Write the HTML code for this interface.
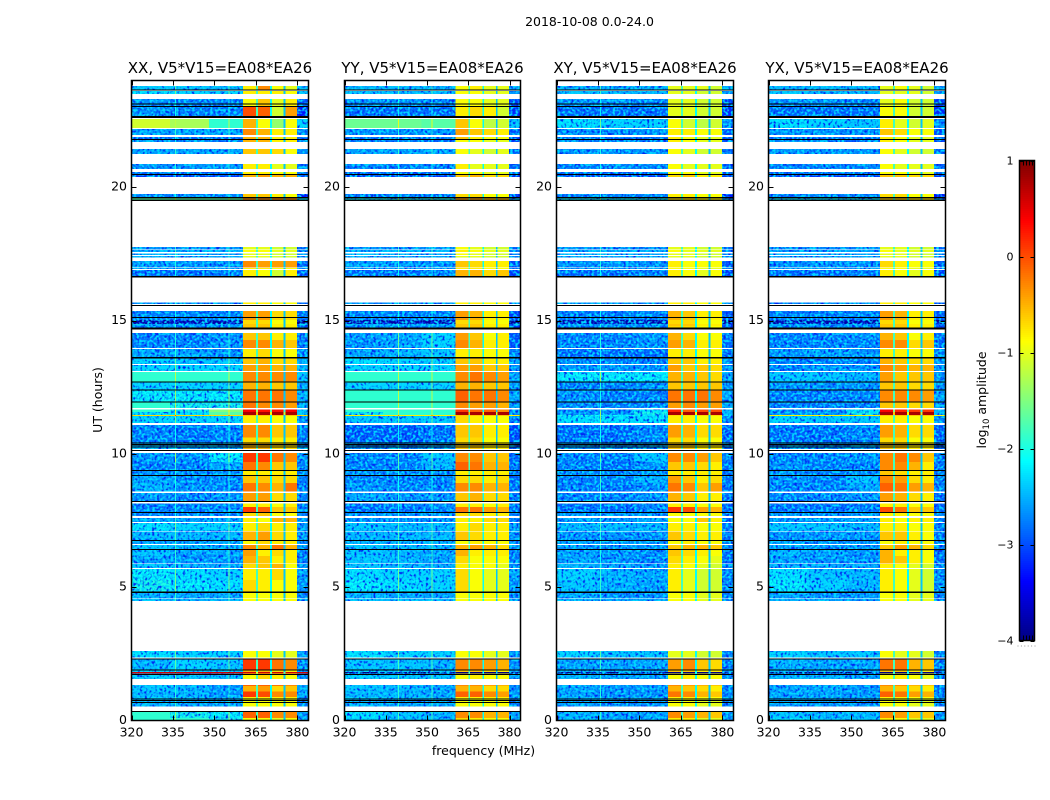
<!DOCTYPE html>
<html lang="en">
<head>
<meta charset="utf-8">
<title>2018-10-08 0.0-24.0</title>
<style>
html,body{margin:0;padding:0;background:#fff}
svg{display:block}
text{font-family:"DejaVu Sans","Liberation Sans",sans-serif;fill:#000}
</style>
</head>
<body>
<svg id="fig" xmlns="http://www.w3.org/2000/svg" width="1050" height="800" viewBox="0 0 1050 800">
<defs>
<filter id="speckle" x="0" y="0" width="100%" height="100%" color-interpolation-filters="sRGB">
<feTurbulence type="fractalNoise" baseFrequency="0.42 0.36" numOctaves="1" seed="4" result="a"/>
<feColorMatrix in="a" type="matrix" values="0 0 0 0 0  0 0 0 0 0.15  0 0 0 0 0.95  0 0 0 4.5 -2.15" result="dark"/>
<feTurbulence type="fractalNoise" baseFrequency="0.38 0.42" numOctaves="1" seed="11" result="b"/>
<feColorMatrix in="b" type="matrix" values="0 0 0 0 0  0 0 0 0 0.85  0 0 0 0 1  0 0 0 4.5 -2.0" result="light"/>
<feMerge result="m"><feMergeNode in="SourceGraphic"/><feMergeNode in="dark"/><feMergeNode in="light"/></feMerge>
<feComposite in="m" in2="SourceAlpha" operator="in"/>
</filter>
</defs>
<text x="589.5" y="26" font-size="12.5" text-anchor="middle">2018-10-08 0.0-24.0</text>
<text x="483.5" y="755" font-size="12.5" text-anchor="middle">frequency (MHz)</text>
<text transform="translate(102,400) rotate(-90)" font-size="12.5" text-anchor="middle">UT (hours)</text>
<text transform="translate(986,400) rotate(-90)" font-size="12.5" text-anchor="middle">log<tspan font-size="8.5" dy="3">10</tspan><tspan dy="-3"> amplitude</tspan></text>
<g id="panels"></g>
<g id="cbar"></g>
</svg>
<script>
// Axis tick values
const xTicks = [320, 335, 350, 365, 380];
const yTicks = [0, 5, 10, 15, 20];
const cbTicks = [-4, -3, -2, -1, 0, 1];
const panelTitles = ['XX, V5*V15=EA08*EA26', 'YY, V5*V15=EA08*EA26', 'XY, V5*V15=EA08*EA26', 'YX, V5*V15=EA08*EA26'];

// Frequency bin edges (MHz): three low-band blocks, four sub-bands separated by gaps, and the top block
const freqEdges = [320, 334, 348, 360.3, 365, 365.7, 370.1, 370.8, 375, 375.7, 379.8, 384];
// Levels in the three gaps between sub-bands (log10 amplitude x 10)
const gapLevels = [-18, -21, -24];

// Time rows in UT hours; gaps between rows are flagged (white) data
const rowStart = [0,.09,.52,.83,.88,1.09,1.29,1.55,1.71,1.76,1.81,1.89,2.36,4.48,4.59,4.79,5.27,5.72,5.88,6.17,6.43,6.62,6.77,7.11,7.45,7.66,7.78,8.01,8.23,8.58,8.91,9.18,9.39,9.69,10.18,10.42,10.62,11.15,11.42,11.46,11.56,11.71,11.94,12.39,12.67,13.11,13.37,13.58,13.96,14.27,14.67,14.79,14.87,15.02,15.61,16.67,16.93,16.99,17.37,17.45,17.56,17.67,19.48,19.64,20.38,20.49,20.68,21.25,21.69,21.81,21.96,22.22,22.67,23.01,23.49,23.66];
const rowEnd = [.09,.31,.83,.88,1.09,1.29,1.33,1.71,1.76,1.81,1.89,2.30,2.61,4.57,4.79,5.27,5.68,5.86,6.17,6.43,6.58,6.77,7.08,7.41,7.59,7.78,8.01,8.13,8.54,8.91,9.18,9.39,9.69,10.04,10.42,10.62,11.09,11.42,11.46,11.56,11.67,11.94,12.39,12.67,13.07,13.33,13.58,13.93,14.27,14.54,14.79,14.87,15.02,15.36,15.67,16.90,16.97,17.23,17.41,17.52,17.64,17.76,19.62,19.74,20.49,20.57,20.87,21.43,21.81,21.88,22.18,22.56,23.01,23.31,23.61,23.79];

// Blank integrations drawn black across each panel [start hour, end hour]
const blankStart = [.31,.67,.73,.81,1.71,1.89,2.30,4.79,6.41,6.73,7.78,8.22,9.18,9.36,10.11,10.23,10.31,10.40,11.94,12.39,12.67,13.58,14.67,15.12,15.56,16.61,19.48,19.56,19.62,20.46,21.77,22.59,23.01,23.10,23.63];
const blankEnd = [.35,.69,.76,.83,1.74,1.92,2.32,4.83,6.43,6.77,7.82,8.24,9.21,9.39,10.15,10.27,10.36,10.43,11.97,12.42,12.71,13.64,14.74,15.14,15.59,16.67,19.52,19.58,19.64,20.49,21.81,22.67,23.05,23.14,23.66];

// Narrow interference channels (MHz)
const rfiXX = [335.8, 355];
const rfiYY = [339.5, 351.6];
const rfiXY = [335.8];
const rfiYX = [];

// log10 amplitude x 10 per row: low1, low2, low3, sub1, sub2, sub3, sub4, top
const levelsXX = [
[-19,-19,-20,-9,-9,-10,-9,-27],[-19,-20,-21,-1,-1,-3,-3,-26],[-25,-26,-26,-9,-9,-9,-9,-28],[-23,-24,-25,-8,-8,-8,-8,-27],[-25,-25,-27,1,0,-3,-3,-26],[-24,-25,-27,-5,-4,-7,-6,-26],[-24,-25,-26,-1,-1,-2,-3,-26],[-23,-24,-24,-9,-7,-8,-9,-26],[-26,-27,-27,-7,-7,-8,-9,-27],[6,6,6,6,6,6,6,6],[-23,-24,-24,-5,-5,-7,-8,-27],[-25,-23,-24,1,1,-2,-3,-26],[-22,-23,-23,-9,-9,-10,-10,-27],
[-24,-25,-25,-9,-9,-9,-9,-27],[-25,-26,-26,-9,-9,-9,-9,-28],[-20,-21,-22,-7,-8,-9,-9,-27],[-21,-22,-23,-8,-8,-7,-9,-26],[-24,-25,-26,-7,-6,-5,-9,-27],[-26,-27,-27,-5,-6,-8,-8,-28],[-24,-26,-26,-4,-8,-7,-8,-28],[-24,-25,-26,-3,-5,-2,-5,-27],[-26,-26,-26,-9,-7,-8,-8,-27],[-25,-25,-25,-5,-4,-7,-8,-27],[-22,-23,-23,-8,-7,-8,-8,-26],[-26,-26,-26,-8,-9,-5,-5,-27],[-28,-28,-28,-7,-6,-9,-9,-28],[-28,-28,-27,1,-1,-6,-6,-28],[-29,-28,-28,-8,-8,-9,-8,-28],[-27,-28,-27,-4,-4,-7,-7,-28],[-25,-27,-28,-2,-3,-5,-2,-28],[-26,-27,-27,-6,-6,-7,-7,-28],[-27,-27,-27,-8,-8,-8,-8,-28],[-28,-28,-26,-2,-3,-6,-6,-28],[-27,-27,-21,1,1,-2,-3,-27],
[-25,-26,-26,-5,-5,-7,-7,-27],[-28,-29,-28,-7,-7,-8,-8,-28],[-28,-29,-28,-3,-3,-6,-6,-28],[-23,-23,-23,-8,-8,-9,-9,-27],[-7,-7,-7,-6,-6,-6,-6,-7],[-22,-22,-17,8,8,8,8,-24],[-19,-20,-15,4,3,3,4,-24],[-19,-20,-20,-2,-3,-3,-4,-25],[-21,-21,-21,-2,-2,-2,-3,-25],[-23,-23,-23,-5,-5,-6,-6,-26],[-19,-19,-19,-3,-3,-3,-3,-24],[-23,-23,-23,-4,-4,-5,-5,-25],[-23,-24,-24,-6,-5,-7,-7,-26],[-26,-26,-27,-8,-7,-9,-9,-28],[-28,-28,-27,-3,-3,-5,-6,-28],[-28,-28,-27,-6,-6,-8,-8,-28],[-28,-28,-28,-6,-6,-8,-8,-29],[-25,-26,-26,-6,-6,-8,-8,-28],[-38,-38,-38,-7,-7,-9,-9,-39],[-28,-28,-28,-4,-4,-7,-7,-29],[-27,-27,-27,-8,-8,-9,-9,-28],
[-29,-29,-28,-8,-9,-11,-8,-30],[-26,-26,-26,-8,-8,-9,-9,-27],[-26,-27,-27,-3,-4,-4,-4,-29],[-25,-26,-26,-10,-10,-11,-11,-27],[-25,-25,-26,-10,-10,-11,-11,-27],[-25,-25,-25,-9,-9,-10,-10,-27],[-27,-27,-27,-10,-10,-11,-11,-28],[-17,-17,-17,-3,-3,-3,-3,-22],[-28,-28,-28,-6,-6,-8,-9,-33],[-31,-31,-31,-5,-4,-5,-5,-30],[-29,-29,-29,-8,-8,-9,-9,-28],[-27,-27,-27,-8,-8,-10,-10,-28],[-26,-26,-26,-6,-6,-7,-9,-27],[-27,-27,-28,-5,-5,-8,-8,-29],[-29,-29,-29,-5,-5,-8,-8,-29],[-26,-26,-26,-3,-5,-8,-8,-28],[-11,-13,-19,-5,-9,-14,-9,-23],[-27,-28,-28,0,-1,-11,-4,-33],[-27,-28,-28,-9,-6,-10,-8,-30],[-22,-23,-23,-8,-8,-8,-9,-24],[-24,-24,-25,-8,-3,-9,-10,-24]
];
const levelsYY = [
[-23,-24,-25,-7,-8,-9,-9,-27],[-22,-24,-25,-3,-3,-5,-5,-26],[-25,-26,-26,-9,-9,-9,-9,-28],[-23,-24,-25,-8,-8,-8,-8,-27],[-25,-25,-26,-1,-1,-3,-4,-27],[-24,-25,-26,-5,-5,-7,-7,-27],[-24,-25,-26,-3,-3,-4,-5,-27],[-23,-24,-24,-9,-8,-9,-9,-26],[-26,-27,-27,-7,-7,-8,-9,-27],[-40,-40,-40,-40,-40,-40,-40,-40],[-23,-24,-24,-6,-6,-7,-8,-27],[-24,-24,-25,-3,-3,-4,-5,-27],[-22,-23,-23,-9,-9,-10,-10,-27],
[-24,-25,-25,-9,-9,-9,-9,-27],[-25,-26,-26,-9,-9,-9,-9,-28],[-21,-22,-23,-7,-9,-10,-10,-27],[-22,-23,-23,-7,-9,-10,-10,-26],[-24,-25,-26,-8,-9,-9,-10,-27],[-24,-25,-26,-7,-9,-9,-9,-28],[-24,-25,-26,-5,-8,-8,-8,-28],[-24,-25,-25,-5,-4,-5,-7,-27],[-25,-25,-25,-9,-8,-9,-9,-27],[-25,-25,-25,-6,-7,-8,-8,-27],[-24,-25,-25,-8,-7,-8,-8,-26],[-27,-27,-27,-8,-8,-7,-7,-28],[-27,-27,-27,-7,-7,-8,-8,-28],[-29,-29,-28,-2,-2,-4,-5,-29],[-29,-28,-28,-8,-8,-9,-8,-29],[-26,-27,-27,-6,-5,-7,-7,-28],[-27,-28,-28,-3,-3,-5,-5,-29],[-28,-28,-28,-7,-7,-8,-7,-29],[-27,-27,-27,-8,-8,-8,-8,-28],[-28,-28,-25,-1,-2,-5,-5,-29],[-28,-28,-24,-3,-3,-6,-6,-29],
[-28,-28,-27,-6,-6,-8,-8,-30],[-29,-30,-29,-7,-7,-9,-9,-30],[-30,-30,-29,-6,-6,-8,-8,-31],[-24,-24,-24,-7,-8,-9,-9,-28],[-8,-8,-8,-6,-6,-6,-6,-8],[-20,-19,-19,8,8,8,8,-27],[-19,-19,-19,1,-1,-1,-3,-27],[-19,-19,-19,-3,-4,-4,-5,-26],[-19,-19,-19,-1,-2,-2,-3,-26],[-23,-23,-23,-5,-5,-6,-6,-27],[-19,-19,-19,-3,-2,-3,-4,-26],[-23,-23,-23,-4,-4,-6,-6,-27],[-22,-23,-23,-6,-6,-8,-8,-26],[-26,-25,-24,-8,-8,-9,-9,-28],[-27,-26,-23,-3,-5,-8,-8,-30],[-27,-26,-23,-4,-6,-9,-8,-30],[-28,-28,-28,-6,-6,-8,-8,-31],[-25,-26,-26,-6,-6,-8,-8,-30],[-38,-38,-38,-7,-7,-9,-9,-39],[-28,-28,-28,-4,-5,-8,-8,-31],[-27,-27,-27,-8,-8,-9,-9,-28],
[-29,-29,-28,-5,-5,-7,-6,-31],[-26,-26,-26,-8,-8,-9,-9,-28],[-26,-27,-27,-6,-7,-8,-8,-30],[-25,-26,-26,-10,-10,-11,-11,-28],[-24,-25,-26,-9,-10,-11,-11,-28],[-25,-25,-25,-8,-9,-10,-10,-28],[-27,-27,-27,-9,-10,-11,-11,-29],[-20,-20,-20,-4,-4,-5,-5,-24],[-28,-28,-28,-7,-7,-9,-9,-32],[-31,-31,-31,-6,-5,-7,-7,-31],[-29,-29,-29,-9,-9,-10,-10,-28],[-28,-28,-28,-8,-10,-10,-10,-29],[-26,-26,-26,-9,-10,-11,-10,-29],[-28,-28,-29,-9,-9,-10,-10,-31],[-29,-29,-29,-6,-8,-9,-9,-31],[-27,-27,-27,-4,-6,-7,-8,-30],[-16,-16,-17,-6,-9,-12,-11,-24],[-29,-29,-29,-8,-7,-8,-11,-32],[-27,-27,-28,-9,-9,-10,-10,-31],[-24,-25,-25,-9,-9,-10,-10,-27],[-25,-25,-25,-9,-8,-10,-10,-26]
];
const levelsXY = [
[-24,-26,-26,-8,-8,-10,-10,-27],[-25,-26,-26,-3,-4,-5,-6,-27],[-26,-27,-27,-9,-9,-10,-10,-28],[-25,-26,-26,-8,-8,-9,-9,-28],[-26,-27,-27,-2,-3,-5,-6,-27],[-26,-27,-27,-5,-6,-7,-8,-28],[-26,-26,-27,-3,-4,-5,-6,-28],[-25,-26,-26,-9,-8,-9,-9,-27],[-27,-27,-27,-8,-8,-9,-9,-28],[-40,-40,-40,-40,-40,-40,-40,-40],[-25,-25,-26,-6,-6,-8,-8,-28],[-26,-26,-26,-4,-3,-6,-7,-28],[-23,-24,-24,-10,-10,-11,-11,-28],
[-25,-26,-26,-9,-9,-10,-10,-28],[-26,-27,-27,-9,-9,-10,-10,-28],[-24,-25,-26,-8,-10,-11,-11,-28],[-23,-25,-26,-8,-10,-11,-11,-28],[-25,-26,-27,-8,-9,-10,-11,-28],[-26,-27,-28,-7,-8,-9,-10,-29],[-26,-27,-27,-6,-7,-8,-9,-29],[-27,-27,-27,-6,-5,-5,-6,-28],[-26,-27,-27,-9,-8,-9,-9,-28],[-27,-27,-27,-6,-7,-8,-8,-28],[-25,-25,-25,-8,-8,-9,-9,-28],[-26,-27,-26,-9,-9,-6,-8,-29],[-27,-27,-27,-9,-9,-9,-9,-29],[-29,-29,-28,1,0,-4,-5,-29],[-29,-29,-28,-8,-8,-9,-9,-29],[-28,-28,-27,-5,-6,-8,-8,-29],[-28,-29,-27,-2,-3,-6,-4,-29],[-28,-28,-25,-4,-6,-8,-7,-29],[-27,-28,-27,-8,-8,-8,-8,-29],[-28,-29,-27,-6,-6,-7,-8,-29],[-28,-28,-24,-3,-3,-4,-6,-28],
[-27,-28,-27,-6,-6,-8,-8,-29],[-28,-29,-28,-7,-7,-9,-9,-29],[-29,-29,-28,-4,-5,-7,-7,-30],[-22,-22,-22,-8,-8,-9,-9,-27],[-20,-21,-21,-7,-7,-7,-7,-22],[-27,-27,-20,8,8,8,8,-25],[-28,-28,-22,2,-1,0,0,-25],[-27,-28,-28,-4,-3,-4,-4,-26],[-27,-28,-28,-2,-2,-2,-3,-26],[-28,-28,-27,-6,-6,-6,-6,-27],[-21,-21,-21,-5,-5,-6,-7,-26],[-27,-27,-27,-4,-6,-6,-7,-27],[-27,-28,-28,-6,-6,-8,-8,-27],[-29,-29,-29,-8,-8,-9,-9,-29],[-28,-28,-27,-4,-5,-8,-8,-29],[-28,-28,-27,-5,-7,-9,-9,-29],[-28,-28,-28,-7,-7,-9,-9,-30],[-26,-27,-27,-6,-6,-8,-8,-29],[-38,-38,-38,-7,-7,-9,-9,-39],[-28,-28,-28,-5,-6,-8,-8,-30],[-27,-27,-27,-8,-8,-9,-9,-28],
[-29,-29,-28,-8,-9,-10,-9,-31],[-26,-26,-26,-9,-9,-10,-10,-28],[-27,-27,-27,-8,-9,-9,-9,-30],[-26,-26,-26,-10,-10,-11,-11,-28],[-25,-25,-26,-10,-10,-11,-11,-28],[-26,-26,-26,-9,-10,-10,-10,-28],[-27,-27,-27,-10,-10,-11,-11,-29],[-21,-21,-21,-7,-7,-8,-8,-26],[-28,-28,-28,-8,-8,-9,-9,-33],[-31,-31,-31,-7,-6,-8,-8,-31],[-29,-29,-29,-9,-9,-10,-10,-29],[-28,-28,-28,-9,-10,-10,-10,-29],[-27,-27,-27,-9,-10,-11,-11,-29],[-28,-28,-29,-8,-9,-10,-10,-30],[-29,-29,-29,-8,-9,-10,-10,-30],[-27,-27,-27,-8,-8,-9,-9,-30],[-22,-23,-23,-9,-11,-12,-11,-27],[-29,-29,-29,-10,-10,-11,-11,-32],[-27,-27,-28,-10,-10,-11,-11,-31],[-24,-25,-25,-10,-10,-11,-11,-27],[-25,-25,-25,-10,-10,-10,-11,-26]
];
const levelsYX = [
[-22,-24,-24,-8,-9,-10,-10,-27],[-24,-25,-25,-3,-4,-6,-6,-27],[-26,-27,-27,-9,-9,-10,-10,-28],[-25,-26,-26,-8,-8,-9,-9,-28],[-26,-26,-27,-1,-2,-4,-5,-27],[-26,-26,-27,-5,-6,-7,-8,-28],[-26,-26,-27,-3,-3,-5,-6,-28],[-25,-25,-26,-9,-8,-9,-10,-27],[-27,-27,-27,-8,-8,-9,-9,-28],[-40,-40,-40,-40,-40,-40,-40,-40],[-25,-25,-26,-6,-6,-8,-8,-28],[-25,-26,-26,-2,-2,-5,-6,-28],[-23,-24,-24,-9,-10,-10,-11,-28],
[-25,-26,-26,-9,-9,-10,-10,-28],[-26,-27,-27,-9,-9,-10,-10,-28],[-21,-23,-25,-8,-9,-10,-11,-27],[-22,-24,-25,-8,-9,-10,-11,-27],[-25,-26,-26,-8,-9,-10,-11,-28],[-26,-27,-27,-5,-6,-8,-9,-29],[-25,-26,-27,-5,-8,-8,-9,-28],[-26,-27,-27,-6,-4,-5,-7,-28],[-26,-27,-27,-9,-8,-9,-9,-28],[-27,-27,-27,-6,-6,-8,-9,-28],[-24,-24,-25,-8,-8,-9,-9,-28],[-27,-27,-26,-8,-9,-8,-8,-28],[-27,-27,-27,-8,-8,-9,-9,-28],[-29,-29,-28,0,-2,-6,-6,-29],[-29,-29,-28,-8,-8,-9,-9,-29],[-28,-28,-27,-4,-5,-7,-8,-29],[-28,-28,-26,-1,-2,-4,-5,-28],[-27,-28,-24,-3,-4,-7,-8,-28],[-27,-28,-27,-6,-7,-8,-8,-28],[-27,-28,-28,-3,-3,-5,-8,-28],[-28,-28,-27,-3,-2,-3,-6,-28],
[-27,-28,-27,-6,-6,-8,-8,-29],[-29,-29,-28,-7,-7,-9,-9,-29],[-29,-29,-28,-4,-5,-7,-7,-30],[-23,-24,-24,-8,-8,-9,-9,-27],[-8,-8,-8,-6,-6,-6,-6,-9],[-27,-26,-20,8,8,8,8,-25],[-28,-28,-22,4,2,1,1,-25],[-28,-28,-28,-6,-6,-7,-7,-26],[-28,-28,-28,-3,-3,-3,-4,-26],[-27,-27,-27,-6,-6,-7,-7,-27],[-24,-24,-25,-4,-6,-6,-6,-27],[-28,-27,-27,-3,-4,-5,-5,-27],[-28,-28,-28,-5,-6,-7,-7,-27],[-27,-26,-27,-8,-8,-9,-9,-28],[-28,-28,-28,-3,-3,-7,-6,-29],[-28,-28,-27,-5,-6,-9,-8,-29],[-28,-28,-28,-6,-6,-8,-8,-30],[-26,-27,-27,-6,-6,-8,-8,-29],[-38,-38,-38,-7,-7,-9,-9,-39],[-28,-28,-28,-4,-5,-8,-8,-30],[-27,-27,-27,-8,-8,-9,-9,-28],
[-29,-29,-28,-8,-9,-10,-9,-31],[-26,-26,-26,-9,-9,-10,-10,-28],[-27,-27,-27,-7,-8,-9,-9,-30],[-26,-26,-26,-10,-10,-11,-11,-28],[-25,-25,-26,-10,-10,-11,-11,-28],[-26,-26,-26,-9,-10,-10,-10,-28],[-27,-27,-27,-10,-10,-11,-11,-29],[-21,-21,-21,-6,-6,-7,-7,-26],[-28,-28,-28,-7,-7,-9,-9,-33],[-31,-31,-31,-6,-6,-7,-7,-31],[-29,-29,-29,-9,-9,-10,-10,-29],[-28,-28,-28,-9,-10,-10,-10,-29],[-27,-27,-27,-9,-10,-11,-11,-29],[-28,-28,-29,-8,-9,-10,-10,-30],[-29,-29,-29,-8,-9,-10,-10,-30],[-27,-27,-27,-6,-7,-9,-9,-30],[-22,-23,-24,-8,-10,-11,-10,-27],[-29,-29,-29,-9,-9,-11,-11,-32],[-27,-27,-28,-10,-9,-11,-11,-31],[-24,-25,-25,-10,-10,-10,-11,-27],[-25,-25,-25,-10,-9,-10,-11,-26]
];

const allLevels = [levelsXX, levelsYY, levelsXY, levelsYX];
const allRfi = [rfiXX, rfiYY, rfiXY, rfiYX];
const panelLeft = [131.5, 344.5, 556.5, 768.5];
const panelWidth = [177, 176, 177, 177];
const panelKeys = ['xx', 'yy', 'xy', 'yx'];

const NS = 'http://www.w3.org/2000/svg';
const TOP = 80.5, BOTTOM = 720.5;
const F0 = 320, F1 = 384, H1 = 24;
const SMOOTH_ABOVE = -1.95;
const yOf = h => BOTTOM - (h / H1) * (BOTTOM - TOP);

function jet(norm) {
  const t = Math.max(0, Math.min(1, norm));
  const c = v => Math.round(255 * Math.max(0, Math.min(1, v)));
  const r = Math.min(4 * t - 1.5, -4 * t + 4.5);
  const g = Math.min(4 * t - 0.5, -4 * t + 3.5);
  const b = Math.min(4 * t + 0.5, -4 * t + 2.5);
  return 'rgb(' + c(r) + ',' + c(g) + ',' + c(b) + ')';
}
const colorOf = v => jet((v + 4) / 5);

function make(parent, tag, attrs, txt) {
  const n = document.createElementNS(NS, tag);
  for (const k in attrs) n.setAttribute(k, attrs[k]);
  if (txt !== undefined) n.textContent = txt;
  parent.appendChild(n);
  return n;
}

const root = document.getElementById('panels');

panelTitles.forEach((title, p) => {
  const left = panelLeft[p], w = panelWidth[p];
  const xOf = f => left + ((f - F0) / (F1 - F0)) * w;
  const key = panelKeys[p];
  const levels = allLevels[p];

  const g = make(root, 'g', {});
  
  

  const low = make(g, 'g', { filter: 'url(#speckle)', 'shape-rendering': 'crispEdges' });
  
  
  const high = make(g, 'g', { 'shape-rendering': 'crispEdges' });
  
  

  rowStart.forEach((start, r) => {
    const y = yOf(rowEnd[r]);
    const h = yOf(start) - y;
    const v = levels[r].map(n => n / 10);
    const sMean = (v[3] + v[4] + v[5] + v[6]) / 4;
    const gapBoost = sMean > 0 ? sMean * 1.5 : 0;
    const vals = [v[0], v[1], v[2], v[3], gapLevels[0] / 10 + gapBoost, v[4], gapLevels[1] / 10 + gapBoost, v[5], gapLevels[2] / 10 + gapBoost, v[6], v[7]];
    vals.forEach((val, c) => {
      const x0 = xOf(freqEdges[c]);
      const x1 = xOf(freqEdges[c + 1]);
      const noisy = (c < 3 || c === 10) && val < SMOOTH_ABOVE;
      const cell = make(noisy ? low : high, 'rect', { x: x0, y: y, width: x1 - x0, height: h, fill: colorOf(val) });
      
      
    });
  });

  const rfiG = make(g, 'g', { 'shape-rendering': 'crispEdges' });
  
  
  allRfi[p].forEach(f => {
    rowStart.forEach((start, r) => {
      const y = yOf(rowEnd[r]);
      const line = make(rfiG, 'rect', { x: xOf(f), y: y, width: 1, height: yOf(start) - y, fill: colorOf(levels[r][2] / 10 + 0.7) });
      
      
    });
  });

  const blanks = make(g, 'g', { 'shape-rendering': 'crispEdges' });
  
  
  blankStart.forEach((start, b) => {
    const y = yOf(blankEnd[b]);
    const bar = make(blanks, 'rect', { x: left, y: y, width: w, height: Math.max(1, yOf(start) - y), fill: '#000' });
    
    
  });

  const ticks = make(g, 'g', { stroke: '#000', 'stroke-width': 1 });
  
  
  xTicks.forEach(t => {
    const x = Math.round(xOf(t)) + 0.5;
    make(ticks, 'line', { x1: x, x2: x, y1: TOP, y2: TOP + 5 });
    make(ticks, 'line', { x1: x, x2: x, y1: BOTTOM, y2: BOTTOM - 5 });
    const lab = make(g, 'text', { x: xOf(t), y: BOTTOM + 16, 'font-size': 12.5, 'text-anchor': 'middle' }, String(t));
    
    
  });
  yTicks.forEach(t => {
    const y = Math.round(yOf(t)) + 0.5;
    if (t > 0) {
      make(ticks, 'line', { x1: left, x2: left + 5, y1: y, y2: y });
      make(ticks, 'line', { x1: left + w, x2: left + w - 5, y1: y, y2: y });
    }
    const lab = make(g, 'text', { x: left - 4.5, y: yOf(t) + 3.5, 'font-size': 12.5, 'text-anchor': 'end' }, String(t));
    
    
  });

  const frame = make(g, 'rect', { x: left, y: TOP, width: w, height: BOTTOM - TOP, fill: 'none', stroke: '#000', 'stroke-width': 1.5 });
  
  

  const t = make(g, 'text', { x: left + w / 2, y: 73, 'font-size': 15, 'text-anchor': 'middle' }, title);
  
  
});

// Colorbar
const cb = document.getElementById('cbar');
const CB_L = 1019.5, CB_R = 1034.5, CB_T = 160.5, CB_B = 640.5;
const cbY = v => CB_B - ((v + 4) / 5) * (CB_B - CB_T);
const cbSwatches = make(cb, 'g', { 'shape-rendering': 'crispEdges' });


const CB_STEPS = 240;
for (let i = 0; i < CB_STEPS; i++) {
  const v0 = -4 + (5 * i) / CB_STEPS;
  const v1 = -4 + (5 * (i + 1)) / CB_STEPS;
  const sw = make(cbSwatches, 'rect', { x: CB_L, y: cbY(v1), width: CB_R - CB_L, height: cbY(v0) - cbY(v1) + 0.5, fill: colorOf((v0 + v1) / 2) });
  
  
}
cbTicks.forEach(t => {
  const y = Math.round(cbY(t)) + 0.5;
  make(cb, 'line', { x1: CB_L, x2: CB_L + 4, y1: y, y2: y, stroke: '#000', 'stroke-width': 1 });
  make(cb, 'line', { x1: CB_R, x2: CB_R - 4, y1: y, y2: y, stroke: '#000', 'stroke-width': 1 });
  const lab = make(cb, 'text', { x: 1013.5, y: cbY(t) + 4, 'font-size': 11, 'text-anchor': 'end' }, t < 0 ? '\u2212' + Math.abs(t) : String(t));
  
  
});
for (let i = 1; i < 5; i++) {
  const x = Math.round(CB_L + (i * (CB_R - CB_L)) / 5) + 0.5;
  make(cb, 'line', { x1: x, x2: x, y1: CB_T, y2: CB_T + 5, stroke: '#000', 'stroke-width': 1 });
  make(cb, 'line', { x1: x, x2: x, y1: CB_B, y2: CB_B - 5, stroke: '#000', 'stroke-width': 1 });
}
for (let i = 0; i < 6; i++) {
  const dot = make(cb, 'rect', { x: 1017.5 + i * 3.4, y: 645.5, width: 1, height: 1, fill: '#999' });
  
  
}
const cbFrame = make(cb, 'rect', { x: CB_L, y: CB_T, width: CB_R - CB_L, height: CB_B - CB_T, fill: 'none', stroke: '#000', 'stroke-width': 1.5 });


</script>
</body>
</html>
